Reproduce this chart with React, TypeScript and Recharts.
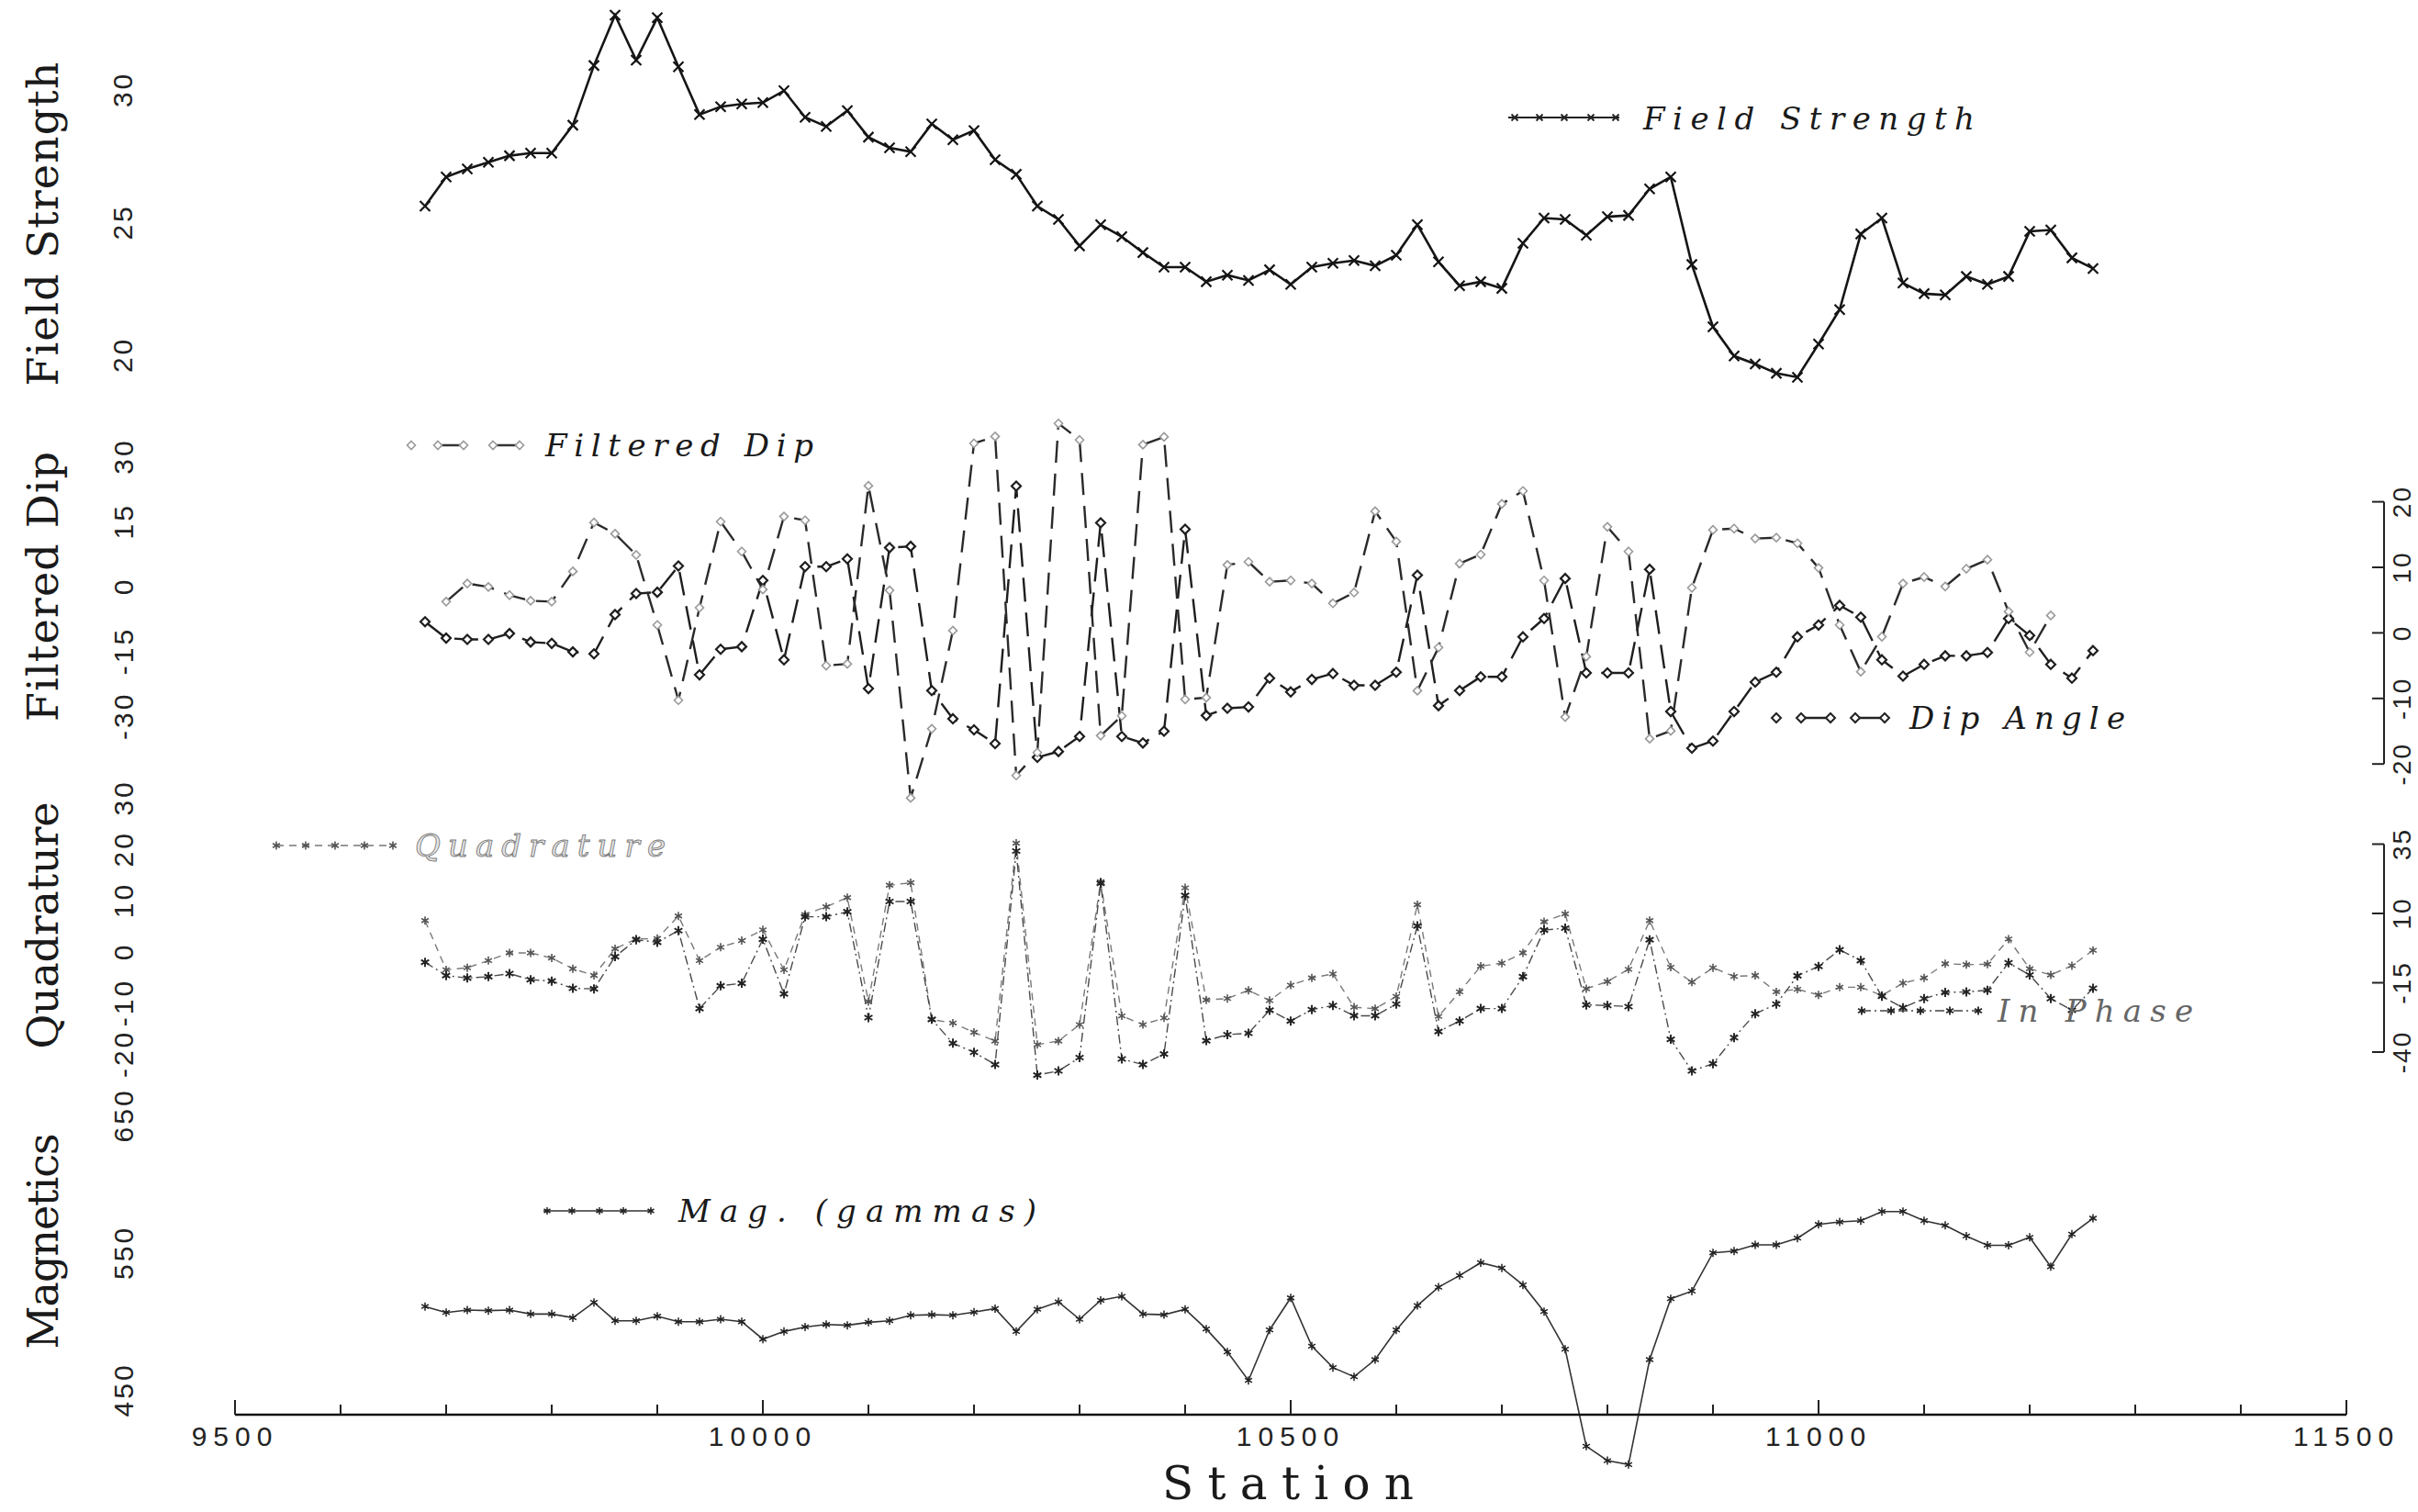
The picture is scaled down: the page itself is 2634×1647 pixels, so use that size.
import { LineChart, Line, XAxis, YAxis } from "recharts";

const stations = [
  9680, 9700, 9720, 9740, 9760, 9780, 9800, 9820, 9840, 9860,
  9880, 9900, 9920, 9940, 9960, 9980, 10000, 10020, 10040, 10060,
  10080, 10100, 10120, 10140, 10160, 10180, 10200, 10220, 10240, 10260,
  10280, 10300, 10320, 10340, 10360, 10380, 10400, 10420, 10440, 10460,
  10480, 10500, 10520, 10540, 10560, 10580, 10600, 10620, 10640, 10660,
  10680, 10700, 10720, 10740, 10760, 10780, 10800, 10820, 10840, 10860,
  10880, 10900, 10920, 10940, 10960, 10980, 11000, 11020, 11040, 11060,
  11080, 11100, 11120, 11140, 11160, 11180, 11200, 11220, 11240, 11260,
];

const fieldStrength = [
  25.6, 26.7, 27.0, 27.25, 27.5, 27.6, 27.6, 28.65, 30.9, 32.8,
  31.1, 32.7, 30.85, 29.05, 29.35, 29.45, 29.5, 29.95, 28.95, 28.6,
  29.2, 28.2, 27.8, 27.65, 28.7, 28.1, 28.45, 27.35, 26.8, 25.6,
  25.1, 24.1, 24.9, 24.45, 23.85, 23.3, 23.3, 22.75, 23.0, 22.8,
  23.2, 22.65, 23.3, 23.45, 23.55, 23.35, 23.75, 24.9, 23.5, 22.6,
  22.75, 22.5, 24.2, 25.15, 25.1, 24.5, 25.2, 25.25, 26.25, 26.7,
  23.4, 21.05, 19.95, 19.65, 19.3, 19.15, 20.4, 21.7, 24.55, 25.15,
  22.7, 22.3, 22.25, 22.95, 22.65, 22.95, 24.65, 24.7, 23.65, 23.25,
];

const filteredDip = [
  null, -3.6, 0.6, -0.2, -2.1, -3.4, -3.6, 3.4, 14.7, 12.1,
  7.2, -9, -26.4, -5, 14.9, 8.0, -0.8, 16.1, 15.2, -18.4,
  -18.0, 23.2, -1, -49, -33, -10.3, 33.0, 34.6, -43.8, -38.5,
  37.6, 33.8, -34.6, -30, 32.7, 34.5, -26.2, -25.8, 4.9, 5.6,
  1.0, 1.3, 0.6, -4.0, -1.5, 17.3, 10.3, -24.2, -14.2, 5.2,
  7.3, 19.0, 22, 1.3, -30.3, -16.3, 13.7, 8.0, -35.3, -33.5,
  -0.4, 13.0, 13.3, 11.0, 11.2, 9.9, 4.2, -9.0, -19.8, -11.7,
  0.6, 2.1, -0.1, 4.0, 6.1, -5.9, -15.3, -6.8, null, null,
];

const dipAngle = [
  1.7, -0.8, -1.0, -1.0, -0.1, -1.4, -1.6, -2.9, -3.2, 2.8,
  6.0, 6.2, 10.2, -6.4, -2.5, -2.1, 8.0, -4.1, 10.1, 10.1,
  11.3, -8.5, 13.0, 13.2, -8.8, -13.1, -14.8, -16.9, 22.4, -19.0,
  -18.1, -15.8, 16.8, -15.8, -16.8, -15.0, 15.8, -12.6, -11.5, -11.3,
  -6.9, -9.0, -7.1, -6.2, -8.0, -8.0, -6.0, 8.8, -11.1, -8.8,
  -6.7, -6.7, -0.6, 2.2, 8.3, -6.1, -6.1, -6.1, 9.7, -12.0,
  -17.6, -16.5, -12.0, -7.5, -6.0, -0.6, 1.2, 4.2, 2.4, -4.1,
  -6.6, -4.8, -3.5, -3.5, -3.0, 2.2, -0.4, -4.8, -6.9, -2.7,
];

const quadrature = [
  6.0, -3.6, -3.2, -1.8, -0.3, -0.3, -1.3, -3.4, -4.7, 0.5,
  2.4, 2.5, 6.9, -1.8, 0.8, 2.1, 4.2, -3.6, 7.2, 8.7,
  10.5, -9.8, 12.9, 13.4, -13.3, -14.0, -15.8, -17.5, 21.1, -18.2,
  -17.5, -14.3, 13.6, -12.6, -14.3, -13.0, 12.4, -9.5, -9.2, -7.6,
  -9.6, -6.6, -5.2, -4.4, -10.9, -11.2, -8.8, 9.1, -12.7, -7.9,
  -2.9, -2.3, -0.3, 5.8, 7.3, -7.3, -5.9, -3.5, 6.0, -3.1,
  -6.0, -3.2, -4.9, -4.7, -7.9, -7.4, -8.5, -7.0, -7.0, -8.6,
  -6.2, -5.2, -2.4, -2.6, -2.5, 2.4, -3.4, -4.6, -2.8, 0.2,
];

const inPhase = [
  -7.6, -12.4, -13.3, -12.8, -11.7, -13.9, -14.4, -17.0, -17.2, -5.6,
  0.5, -0.4, 3.8, -24.3, -16.1, -15.2, 0.7, -19.0, 8.8, 8.8,
  10.6, -27.6, 14.3, 14.3, -28.2, -36.8, -40.1, -44.5, 32.5, -48.3,
  -46.8, -42.0, 20.9, -42.5, -44.5, -40.7, 16.5, -35.9, -33.7, -33.2,
  -24.9, -28.8, -24.7, -23.2, -26.9, -26.9, -22.7, 5.5, -32.6, -28.8,
  -24.3, -24.3, -12.8, 4.0, 4.7, -23.0, -23.2, -23.6, 0.5, -35.4,
  -46.8, -44.2, -34.8, -26.2, -22.7, -12.5, -9.1, -3.1, -7.0, -19.9,
  -24.0, -20.7, -18.5, -18.3, -17.7, -7.8, -12.2, -20.7, -24.9, -17.0,
];

const magnetics = [
  510.7, 506.3, 508.1, 507.7, 508.1, 505.2, 505.2, 502.5, 513.7, 500.3,
  500.3, 503.6, 499.6, 499.6, 501.4, 499.6, 486.9, 492.5, 495.8, 497.6,
  497.0, 499.2, 500.3, 504.3, 504.7, 504.3, 506.6, 509.2, 492.5, 508.7,
  514.1, 501.4, 515.2, 518.1, 505.2, 504.7, 508.7, 494.3, 477.6, 456.8,
  493.6, 517.0, 481.8, 466.2, 459.5, 472.0, 493.6, 511.4, 524.8, 533.3,
  542.6, 538.8, 526.4, 507.0, 479.6, 408.9, 398.4, 395.5, 472.0, 516.4,
  521.9, 549.8, 551.1, 555.6, 555.6, 560.5, 570.5, 572.3, 573.2, 579.9,
  579.9, 573.2, 569.8, 562.0, 555.3, 555.3, 561.1, 539.7, 563.4, 575.0,
];

const fsTicks = [20, 25, 30];
const fdTicks = [-30, -15, 0, 15, 30];
const daTicks = [-20, -10, 0, 10, 20];
const quadTicks = [-20, -10, 0, 10, 20, 30];
const ipTicks = [-40, -15, 10, 35];
const magTicks = [450, 550, 650];
const stationTicks = [
  9500, 9600, 9700, 9800, 9900, 10000, 10100, 10200, 10300, 10400, 10500,
  10600, 10700, 10800, 10900, 11000, 11100, 11200, 11300, 11400, 11500,
];
const majorStations = [9500, 10000, 10500, 11000, 11500];

const rows = stations.map((station, i) => ({
  station,
  fs: fieldStrength[i],
  fd: filteredDip[i],
  da: dipAngle[i],
  q: quadrature[i],
  ip: inPhase[i],
  mag: magnetics[i],
}));

// page layout (px)
const W = 2634;
const H = 1647;
const LEFT = 256;
const RIGHT = 78;
const X_AXIS_Y = 1541;

// place a panel so that value v sits at pixel y with k px per unit
const frame = (v: number, y: number, k: number, lo: number, hi: number) => ({
  top: y - (hi - v) * k,
  height: (hi - lo) * k,
  lo,
  hi,
});
const sideDomain = (f: { top: number; height: number }, v: number, y: number, k: number) => [
  v - (f.top + f.height - y) / k,
  v + (y - f.top) / k,
];

const f1 = frame(20, 386, 28.9, 18.5, 33.3);
const f2 = frame(0, 638, 4.71, -52, 40);
const daDomain = sideDomain(f2, 0, 689, 7.14);
const f3 = frame(0, 1035.9, 5.58, -27, 35);
const ipDomain = sideDomain(f3, 10, 994.6, 3.02);
const f4 = frame(550, 1364, 1.495, 385, 670);

const SANS = "Liberation Sans, Arial, sans-serif";
const SERIF = "DejaVu Serif, serif";

const drawMarker = (kind: string, x: number, y: number, s: number, color: string, w: number) => {
  if (kind === "x") {
    return (
      <path
        d={`M${x - s},${y - s}L${x + s},${y + s}M${x - s},${y + s}L${x + s},${y - s}`}
        stroke={color}
        strokeWidth={w}
        fill="none"
      />
    );
  }
  if (kind === "d") {
    return (
      <path
        d={`M${x},${y - s}L${x + s},${y}L${x},${y + s}L${x - s},${y}Z`}
        stroke={color}
        strokeWidth={w}
        fill="#fff"
      />
    );
  }
  const a = s * 0.87;
  const b = s * 0.5;
  return (
    <path
      d={`M${x},${y - s}L${x},${y + s}M${x - a},${y - b}L${x + a},${y + b}M${x - a},${y + b}L${x + a},${y - b}`}
      stroke={color}
      strokeWidth={w}
      fill="none"
    />
  );
};

const markerDot = (kind: string, s: number, color: string, w: number) => (p: any) => {
  const key = `${kind}-${color}-${p.index}`;
  if (p.cx == null || p.cy == null || p.value == null) return <g key={key} />;
  return <g key={key}>{drawMarker(kind, p.cx, p.cy, s, color, w)}</g>;
};

const LeftTick = (p: any) => (
  <text
    x={134}
    y={p.y}
    transform={`rotate(-90 134 ${p.y})`}
    textAnchor="middle"
    dominantBaseline="central"
    fontFamily={SANS}
    fontSize={30}
    letterSpacing={3}
    fill="#222"
  >
    {p.payload.value}
  </text>
);

const rightTick = (step: number) => (p: any) => (
  <g>
    <line x1={2584} x2={2597} y1={p.y} y2={p.y} stroke="#222" strokeWidth={2} />
    {p.index < p.visibleTicksCount - 1 && (
      <line x1={2597} x2={2597} y1={p.y} y2={p.y - step} stroke="#222" strokeWidth={2} />
    )}
    <text
      x={2617}
      y={p.y}
      transform={`rotate(-90 2617 ${p.y})`}
      textAnchor="middle"
      dominantBaseline="central"
      fontFamily={SANS}
      fontSize={28}
      letterSpacing={2}
      fill="#222"
    >
      {p.payload.value}
    </text>
  </g>
);

const StationTick = (p: any) => {
  const v = p.payload.value;
  if (!majorStations.includes(v)) {
    return <line x1={p.x} x2={p.x} y1={p.y} y2={p.y - 11} stroke="#222" strokeWidth={2} />;
  }
  return (
    <g>
      <line x1={p.x} x2={p.x} y1={p.y} y2={p.y - 16} stroke="#222" strokeWidth={2} />
      <text
        x={p.x}
        y={p.y + 23}
        textAnchor="middle"
        dominantBaseline="central"
        fontFamily={SANS}
        fontSize={30}
        letterSpacing={7}
        fill="#222"
      >
        {v}
      </text>
    </g>
  );
};

const hiddenX = (
  <XAxis type="number" dataKey="station" domain={[9500, 11500]} ticks={majorStations} hide />
);

const leftAxis = (f: { lo: number; hi: number }, ticks: number[]) => (
  <YAxis
    yAxisId="l"
    type="number"
    width={LEFT}
    domain={[f.lo, f.hi]}
    ticks={ticks}
    interval={0}
    allowDataOverflow
    axisLine={false}
    tickLine={false}
    tick={LeftTick}
  />
);

const rightAxis = (domain: number[], ticks: number[], step: number) => (
  <YAxis
    yAxisId="r"
    orientation="right"
    type="number"
    width={RIGHT}
    domain={domain}
    ticks={ticks}
    interval={0}
    allowDataOverflow
    axisLine={false}
    tickLine={false}
    tick={rightTick(step)}
  />
);

const box = (f: { top: number; height: number }) => ({
  position: "absolute" as const,
  left: 0,
  top: f.top,
  width: W,
  height: f.height,
});

const Legends = () => (
  <svg width={W} height={H} style={{ position: "absolute", left: 0, top: 0, pointerEvents: "none" }}>
    {/* axis titles */}
    {[
      ["Field Strength", 244, 353],
      ["Filtered Dip", 639, 294],
      ["Quadrature", 1008, 269],
      ["Magnetics", 1352, 235],
    ].map(([t, y, len]) => (
      <text
        key={t as string}
        x={47}
        y={y as number}
        transform={`rotate(-90 47 ${y})`}
        textAnchor="middle"
        dominantBaseline="central"
        fontFamily={SERIF}
        fontSize={46}
        textLength={len as number}
        lengthAdjust="spacing"
        fill="#1a1a1a"
      >
        {t}
      </text>
    ))}

    {/* Field Strength */}
    <line x1={1643} x2={1764} y1={128} y2={128} stroke="#222" strokeWidth={2} />
    {[1650, 1677, 1704, 1733, 1760].map((x) => (
      <g key={x}>{drawMarker("x", x, 128, 3.5, "#222", 1.8)}</g>
    ))}
    <text x={1790} y={141} fontFamily={SERIF} fontStyle="italic" fontSize={34} textLength={361} lengthAdjust="spacing" fill="#1a1a1a">
      Field Strength
    </text>

    {/* Filtered Dip */}
    <line x1={477} x2={505} y1={485} y2={485} stroke="#333" strokeWidth={2.5} />
    <line x1={537} x2={566} y1={485} y2={485} stroke="#333" strokeWidth={2.5} />
    {[448, 477, 505, 537, 566].map((x) => (
      <g key={x}>{drawMarker("d", x, 485, 4.5, "#999", 1.6)}</g>
    ))}
    <text x={594} y={497} fontFamily={SERIF} fontStyle="italic" fontSize={34} textLength={292} lengthAdjust="spacing" fill="#1a1a1a">
      Filtered Dip
    </text>

    {/* Dip Angle */}
    <line x1={1962} x2={1994} y1={782} y2={782} stroke="#222" strokeWidth={2.5} />
    <line x1={2021} x2={2053} y1={782} y2={782} stroke="#222" strokeWidth={2.5} />
    {[1935, 1962, 1994, 2021, 2053].map((x) => (
      <g key={x}>{drawMarker("d", x, 782, 5, "#222", 2)}</g>
    ))}
    <text x={2080} y={794} fontFamily={SERIF} fontStyle="italic" fontSize={34} textLength={235} lengthAdjust="spacing" fill="#1a1a1a">
      Dip Angle
    </text>

    {/* Quadrature */}
    <line x1={301} x2={428} y1={921} y2={921} stroke="#777" strokeWidth={1.5} strokeDasharray="8 6" />
    {[301, 333, 365, 397, 428].map((x) => (
      <g key={x}>{drawMarker("*", x, 921, 4.5, "#555", 1.6)}</g>
    ))}
    <text x={452} y={933} fontFamily={SERIF} fontStyle="italic" fontSize={34} textLength={273} lengthAdjust="spacing" fill="#e4e4e4" stroke="#7a7a7a" strokeWidth={0.9}>
      Quadrature
    </text>

    {/* In Phase */}
    <line x1={2028} x2={2155} y1={1101} y2={1101} stroke="#444" strokeWidth={1.5} strokeDasharray="10 4 2 4" />
    {[2028, 2060, 2092, 2124, 2155].map((x) => (
      <g key={x}>{drawMarker("*", x, 1101, 4.5, "#222", 1.8)}</g>
    ))}
    <text x={2176} y={1113} fontFamily={SERIF} fontStyle="italic" fontSize={34} textLength={213} lengthAdjust="spacing" fill="#666">
      In Phase
    </text>

    {/* Magnetics */}
    <line x1={592} x2={711} y1={1319} y2={1319} stroke="#333" strokeWidth={1.6} />
    {[596, 623, 653, 679, 709].map((x) => (
      <g key={x}>{drawMarker("*", x, 1319, 4, "#222", 1.5)}</g>
    ))}
    <text x={739} y={1331} fontFamily={SERIF} fontStyle="italic" fontSize={34} textLength={390} lengthAdjust="spacing" fill="#1a1a1a">
      Mag.  (gammas)
    </text>

    {/* x axis title */}
    <text x={1403} y={1633} textAnchor="middle" fontFamily={SERIF} fontSize={50} textLength={274} lengthAdjust="spacing" fill="#1a1a1a">
      Station
    </text>
  </svg>
);

const App = () => {
  const m = { top: 0, bottom: 0, left: 0 };
  const axisTop = X_AXIS_Y - 100;
  return (
    <div style={{ position: "relative", width: W, height: H, background: "#fff", overflow: "hidden" }}>
      <style>{`body{margin:0}`}</style>

      {/* Field Strength */}
      <div style={box(f1)}>
        <LineChart width={W} height={f1.height} data={rows} margin={{ ...m, right: RIGHT }}>
          {hiddenX}
          {leftAxis(f1, fsTicks)}
          <Line
            yAxisId="l"
            dataKey="fs"
            stroke="#151515"
            strokeWidth={2.6}
            dot={markerDot("x", 5.5, "#151515", 2.2)}
            activeDot={false}
            isAnimationActive={false}
          />
        </LineChart>
      </div>

      {/* Filtered Dip / Dip Angle */}
      <div style={box(f2)}>
        <LineChart width={W} height={f2.height} data={rows} margin={{ ...m, right: 0 }}>
          {hiddenX}
          {leftAxis(f2, fdTicks)}
          {rightAxis(daDomain, daTicks, 10 * 7.14)}
          <Line
            yAxisId="r"
            dataKey="da"
            stroke="#1e1e1e"
            strokeWidth={2.4}
            strokeDasharray="26 12"
            dot={markerDot("d", 5, "#1e1e1e", 2.2)}
            activeDot={false}
            isAnimationActive={false}
          />
          <Line
            yAxisId="l"
            dataKey="fd"
            stroke="#2a2a2a"
            strokeWidth={2.4}
            strokeDasharray="24 12"
            dot={markerDot("d", 4.5, "#9a9a9a", 1.6)}
            activeDot={false}
            isAnimationActive={false}
          />
        </LineChart>
      </div>

      {/* Quadrature / In Phase */}
      <div style={box(f3)}>
        <LineChart width={W} height={f3.height} data={rows} margin={{ ...m, right: 0 }}>
          {hiddenX}
          {leftAxis(f3, quadTicks)}
          {rightAxis(ipDomain, ipTicks, 25 * 3.02)}
          <Line
            yAxisId="l"
            dataKey="q"
            stroke="#7a7a7a"
            strokeWidth={1.4}
            strokeDasharray="8 6"
            dot={markerDot("*", 4.5, "#555", 1.6)}
            activeDot={false}
            isAnimationActive={false}
          />
          <Line
            yAxisId="r"
            dataKey="ip"
            stroke="#4a4a4a"
            strokeWidth={1.4}
            strokeDasharray="10 4 2 4"
            dot={markerDot("*", 5, "#222", 1.9)}
            activeDot={false}
            isAnimationActive={false}
          />
        </LineChart>
      </div>

      {/* Magnetics */}
      <div style={box(f4)}>
        <LineChart width={W} height={f4.height} data={rows} margin={{ ...m, right: RIGHT }}>
          {hiddenX}
          {leftAxis(f4, magTicks)}
          <Line
            yAxisId="l"
            dataKey="mag"
            stroke="#333"
            strokeWidth={1.6}
            dot={markerDot("*", 4.5, "#222", 1.5)}
            activeDot={false}
            isAnimationActive={false}
          />
        </LineChart>
      </div>

      {/* Station axis */}
      <div style={box({ top: axisTop, height: H - axisTop })}>
        <LineChart width={W} height={H - axisTop} data={rows} margin={{ top: 0, bottom: 0, left: LEFT, right: RIGHT }}>
          <XAxis
            type="number"
            dataKey="station"
            domain={[9500, 11500]}
            ticks={stationTicks}
            interval={0}
            height={H - X_AXIS_Y}
            axisLine={{ stroke: "#111", strokeWidth: 2.5 }}
            tickLine={false}
            tickSize={0}
            tickMargin={0}
            tick={StationTick}
          />
          <YAxis yAxisId="l" hide domain={[0, 1]} />
        </LineChart>
      </div>

      <Legends />
    </div>
  );
};

export default App;
